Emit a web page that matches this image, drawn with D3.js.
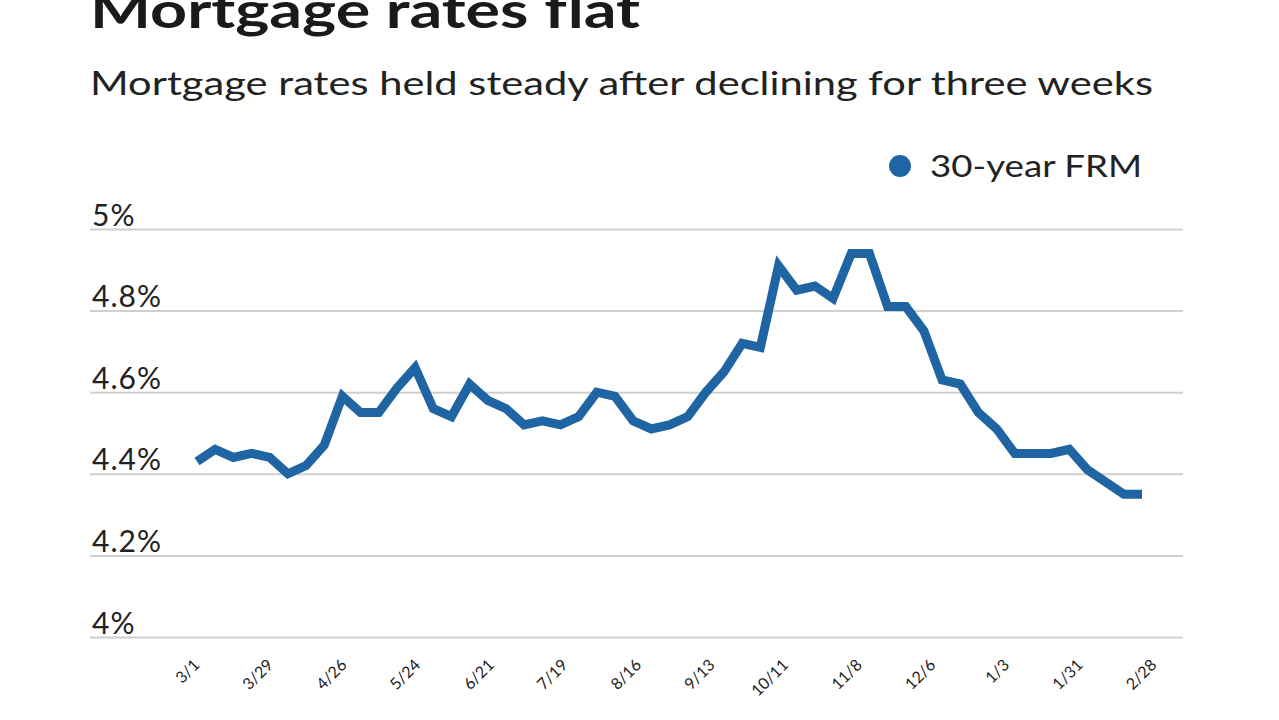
<!DOCTYPE html>
<html>
<head>
<meta charset="utf-8">
<script src="https://cdn.jsdelivr.net/npm/d3@7/dist/d3.min.js"></script>
<style>
  html, body { margin: 0; padding: 0; background: #fff; }
  svg { display: block; }
  text { font-family: Lato, "Noto Sans", sans-serif; fill: #1a1a1a; }
</style>
</head>
<body>
<svg id="chart" width="1279" height="720"></svg>
<script>
// ---------- data ----------
const weeks = d3.range(53); // weekly observations, 3/1 through 2/28
const rates = [
  4.43, 4.46, 4.44, 4.45, 4.44, 4.40, 4.42, 4.47, 4.59, 4.55,
  4.55, 4.61, 4.66, 4.56, 4.54, 4.62, 4.58, 4.56, 4.52, 4.53,
  4.52, 4.54, 4.60, 4.59, 4.53, 4.51, 4.52, 4.54, 4.60, 4.65,
  4.72, 4.71, 4.91, 4.85, 4.86, 4.83, 4.94, 4.94, 4.81, 4.81,
  4.75, 4.63, 4.62, 4.55, 4.51, 4.45, 4.45, 4.45, 4.46, 4.41,
  4.38, 4.35, 4.35
];
const tickLabels = ["3/1","3/29","4/26","5/24","6/21","7/19","8/16","9/13","10/11","11/8","12/6","1/3","1/31","2/28"];
const yTicks = [4, 4.2, 4.4, 4.6, 4.8, 5];
const seriesName = "30-year FRM";
const titleText = "Mortgage rates flat";
const subtitleText = "Mortgage rates held steady after declining for three weeks";

// ---------- layout ----------
const svg = d3.select("#chart");
const blue = "#1f64a3";

const x = d3.scalePoint().domain(weeks).range([197, 1142]);
const xLab = d3.scalePoint().domain(tickLabels).range([200, 1157]);
const y = d3.scaleLinear().domain([4, 5]).range([637, 229]);

function fitWidth(sel, w) {
  const len = sel.node().getComputedTextLength();
  if (Math.abs(len - w) > 2) sel.attr("textLength", w).attr("lengthAdjust", "spacingAndGlyphs");
}

// title (cut off at the top edge, as in the original)
const t = svg.append("text").attr("x", 90).attr("y", 28)
  .style("font-size", "50px").style("font-weight", 700).text(titleText);
fitWidth(t, 550);

const st = svg.append("text").attr("x", 90).attr("y", 95)
  .style("font-size", "32px").style("fill", "#222").text(subtitleText);
fitWidth(st, 1063);

// legend
svg.append("circle").attr("cx", 900).attr("cy", 166).attr("r", 11).attr("fill", blue);
const lt = svg.append("text").attr("x", 930).attr("y", 177)
  .style("font-size", "30px").style("fill", "#222").text(seriesName);
fitWidth(lt, 212);

// grid + y labels
const yAxis = d3.axisLeft(y).tickValues(yTicks).tickSize(0)
  .tickFormat(d => d3.format("~g")(d) + "%");
const gy = svg.append("g").call(yAxis);
gy.select(".domain").remove();
gy.selectAll(".tick line").remove();
gy.selectAll(".tick").each(function () {
  d3.select(this).append("line")
    .attr("x1", 90).attr("x2", 1183)
    .attr("stroke", "#cfcfcf").attr("stroke-width", 2);
});
gy.selectAll(".tick text")
  .attr("x", 92).attr("dy", "-4px")
  .attr("text-anchor", "start")
  .style("font-family", "Lato, 'Noto Sans', sans-serif")
  .style("font-size", "30px").style("letter-spacing", "1px").style("fill", "#222");

// x labels
const xAxis = d3.axisBottom(xLab).tickSize(0);
const gx = svg.append("g").attr("transform", "translate(0,666)").call(xAxis);
gx.select(".domain").remove();
gx.selectAll(".tick text")
  .attr("y", 0).attr("dy", 0)
  .attr("text-anchor", "end")
  .attr("transform", "rotate(-45)")
  .style("font-family", "Lato, 'Noto Sans', sans-serif")
  .style("font-size", "16px").style("fill", "#222");

// line
const line = d3.line().x((d, i) => x(weeks[i])).y(d => y(d));
svg.append("path").datum(rates)
  .attr("d", line)
  .attr("fill", "none")
  .attr("stroke", blue)
  .attr("stroke-width", 9)
  .attr("stroke-linejoin", "miter")
  .attr("stroke-linecap", "butt");
</script>
</body>
</html>
